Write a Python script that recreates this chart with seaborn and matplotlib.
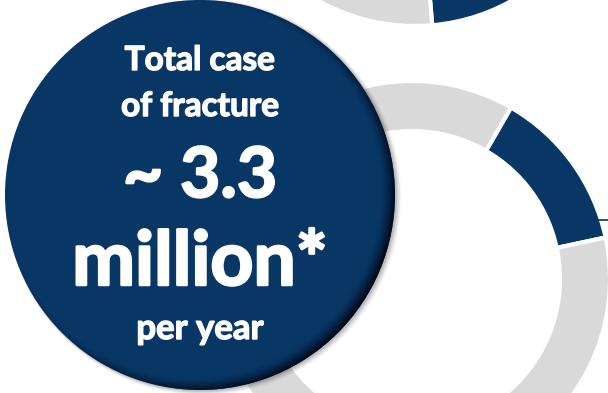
import numpy as np
import matplotlib
matplotlib.use("Agg")
import matplotlib.pyplot as plt
import matplotlib.patheffects as pe
from matplotlib.patches import Circle
import seaborn as sns

# Highlighted share (percent) of each fracture ring; the rest is shown in grey
ring_names = ["upper ring", "middle ring"]
highlight_share = [15.0, 13.3]

# Headline inside the big badge
headline_lines = ["Total case", "of fracture", "~ 3.3", "million*", "per year"]

NAVY = "#083665"
GREY = "#d9d9d9"

sns.set_theme(style="white")
plt.rcParams["font.family"] = ["Lato", "DejaVu Sans"]

W, H = 608, 393
fig = plt.figure(figsize=(W / 100, H / 100), dpi=100)
ax = fig.add_axes([0, 0, 1, 1])

# ring geometry (canvas units, y pointing up)
ring_centers = [(415, 565), (412, 114)]
ring_start = [-31, 60]
outer_r, ring_w = 198, 50

palette = sns.color_palette([NAVY, GREY])
for share, c, start in zip(highlight_share, ring_centers, ring_start):
    ax.pie([share, 100 - share], colors=palette, startangle=start,
           counterclock=False, center=c, radius=outer_r, frame=False,
           wedgeprops=dict(width=ring_w, edgecolor="white", linewidth=3))

# short leader line from the middle ring
ax.plot([597, 612], [173, 173], color=NAVY, lw=1.2, solid_capstyle="butt", zorder=1)

# the badge: soft drop shadow, disc, inner shading on the lower right
bc, br = (200, 198), 195
for k, a in enumerate([0.10, 0.08, 0.06, 0.04]):
    ax.add_patch(Circle((bc[0] + 1.5 + k * 0.6, bc[1] - 1.0 - k * 0.4), br + 0.5 + k * 0.8,
                        color="black", alpha=a, lw=0, zorder=2.5))
disc = Circle(bc, br, color=NAVY, lw=0, zorder=3)
ax.add_patch(disc)

xs = np.linspace(bc[0] - br, bc[0] + br, 500)
ys = np.linspace(bc[1] - br, bc[1] + br, 500)
X, Y = np.meshgrid(xs, ys)
shift = (-7, 5)
d = np.hypot(X - (bc[0] + shift[0]), Y - (bc[1] + shift[1]))
wband = 14
alpha = np.clip((d - (br + 7 - wband)) / wband, 0, 1) ** 1.5 * 0.9
rgba = np.zeros(X.shape + (4,))
rgba[..., :3] = np.array([0.0, 0.03, 0.09])
rgba[..., 3] = alpha
im = ax.imshow(rgba, extent=(xs[0], xs[-1], ys[0], ys[-1]), origin="lower",
               zorder=4, interpolation="bilinear")
im.set_clip_path(disc)

# headline text
text_specs = [
    (headline_lines[0], 323, 24, 1.0),
    (headline_lines[1], 277, 24, 1.0),
    (headline_lines[2], 196, 50, 1.6),
    (headline_lines[3], 108, 54, 1.8),
    (headline_lines[4], 54, 25, 1.0),
]
for txt, yb, fs, sw in text_specs:
    ax.text(200, yb, txt, color="white", fontsize=fs, fontweight="bold",
            ha="center", va="baseline", zorder=5,
            path_effects=[pe.withStroke(linewidth=sw, foreground="white")])

ax.set_xlim(0, W)
ax.set_ylim(0, H)
ax.set_aspect("equal")
ax.axis("off")
fig.savefig("out.png", dpi=100, facecolor="white")
